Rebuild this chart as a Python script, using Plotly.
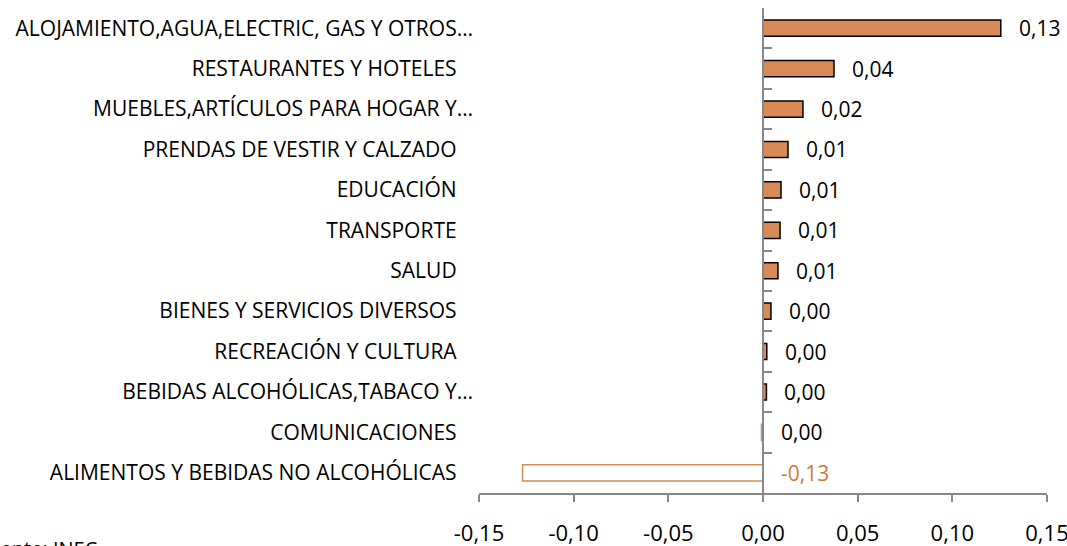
import plotly.graph_objects as go

# 数据（自上而下的顺序）
categories = [
    "ALOJAMIENTO,AGUA,ELECTRIC, GAS Y OTROS…",
    "RESTAURANTES Y HOTELES",
    "MUEBLES,ARTÍCULOS PARA HOGAR Y…",
    "PRENDAS DE VESTIR Y CALZADO",
    "EDUCACIÓN",
    "TRANSPORTE",
    "SALUD",
    "BIENES Y SERVICIOS DIVERSOS",
    "RECREACIÓN Y CULTURA",
    "BEBIDAS ALCOHÓLICAS,TABACO Y…",
    "COMUNICACIONES",
    "ALIMENTOS Y BEBIDAS NO ALCOHÓLICAS",
]
values = [0.1256, 0.0375, 0.0211, 0.0132, 0.0095, 0.0090,
          0.0079, 0.0042, 0.0020, 0.0018, -0.0008, -0.1270]
x_ticks = [-0.15, -0.10, -0.05, 0.00, 0.05, 0.10, 0.15]

FONT = "Open Sans"
FS = 21
ORANGE = "#D98B57"
ORANGE_TXT = "#D07A3C"
GRAY = "#888888"


def fmt(v):
    """两位小数，逗号作小数点。"""
    s = f"{v:.2f}".replace(".", ",")
    return "0,00" if s == "-0,00" else s


# 正值：橙色填充黑边；负值：白色填充橙边
fill = [ORANGE if v >= 0 else "white" for v in values]
edge = ["black" if v >= 0 else ORANGE for v in values]

# 截断的标签没有尾随空格，其余标签保留一点右侧空白
ticktext = [c if c.endswith("…") else c + "\u00a0\u00a0\u00a0" for c in categories]

fig = go.Figure()
fig.add_trace(go.Bar(
    x=values,
    y=categories,
    orientation="h",
    marker=dict(color=fill, line=dict(color=edge, width=1.5)),
    width=0.4,
    hoverinfo="skip",
))
# 隐形轨迹，只用来挂载位于 0 处的第二条纵轴
fig.add_trace(go.Scatter(
    x=[0] * len(categories),
    y=categories,
    yaxis="y2",
    mode="markers",
    marker=dict(opacity=0),
    hoverinfo="skip",
    showlegend=False,
))

# 数据标签（显示为负数的才用橙色）
for cat, v in zip(categories, values):
    label = fmt(v)
    fig.add_annotation(
        x=max(v, 0), y=cat,
        text=label,
        showarrow=False,
        xanchor="left",
        xshift=16,
        font=dict(family=FONT, size=FS,
                  color=ORANGE_TXT if label.startswith("-") else "black"),
    )

fig.add_annotation(
    xref="paper", yref="paper", x=0, y=0,
    xshift=-503, yshift=-55,
    xanchor="left", yanchor="middle",
    text="Fuente: INEC",
    showarrow=False,
    font=dict(family=FONT, size=20, color="black"),
)

n = len(categories)
fig.update_layout(
    width=1067, height=546,
    margin=dict(l=479, r=20, t=8, b=53),
    paper_bgcolor="white",
    plot_bgcolor="white",
    showlegend=False,
    xaxis=dict(
        range=[-0.15, 0.15],
        tickvals=x_ticks,
        ticktext=[fmt(t) for t in x_ticks],
        automargin=False,
        showline=True, linecolor=GRAY, linewidth=1.5,
        ticks="outside", ticklen=7, tickcolor=GRAY, tickwidth=1.5,
        ticklabelstandoff=13,
        ticklabeloverflow="allow",
        showgrid=False, zeroline=False,
        tickfont=dict(family=FONT, size=22, color="black"),
    ),
    yaxis=dict(
        type="category",
        categoryorder="array", categoryarray=categories,
        tickvals=categories, ticktext=ticktext,
        range=[n - 0.5, -0.5],
        anchor="free", position=0,
        automargin=False,
        showline=False, showgrid=False, zeroline=False,
        ticks="", ticklabelstandoff=6,
        tickfont=dict(family=FONT, size=FS, color="black"),
    ),
    yaxis2=dict(
        type="category",
        categoryorder="array", categoryarray=categories,
        range=[n - 0.5, -0.5],
        overlaying="y",
        anchor="free", position=0.5,
        automargin=False,
        showline=True, linecolor=GRAY, linewidth=1.5,
        ticks="inside", ticklen=8, tickcolor=GRAY, tickwidth=1.5,
        tickson="boundaries",
        showticklabels=False,
        showgrid=False, zeroline=False,
    ),
)

fig.write_html(
    "out.html",
    config={"displayModeBar": False},
    post_script="document.body.style.margin='0';",
)
